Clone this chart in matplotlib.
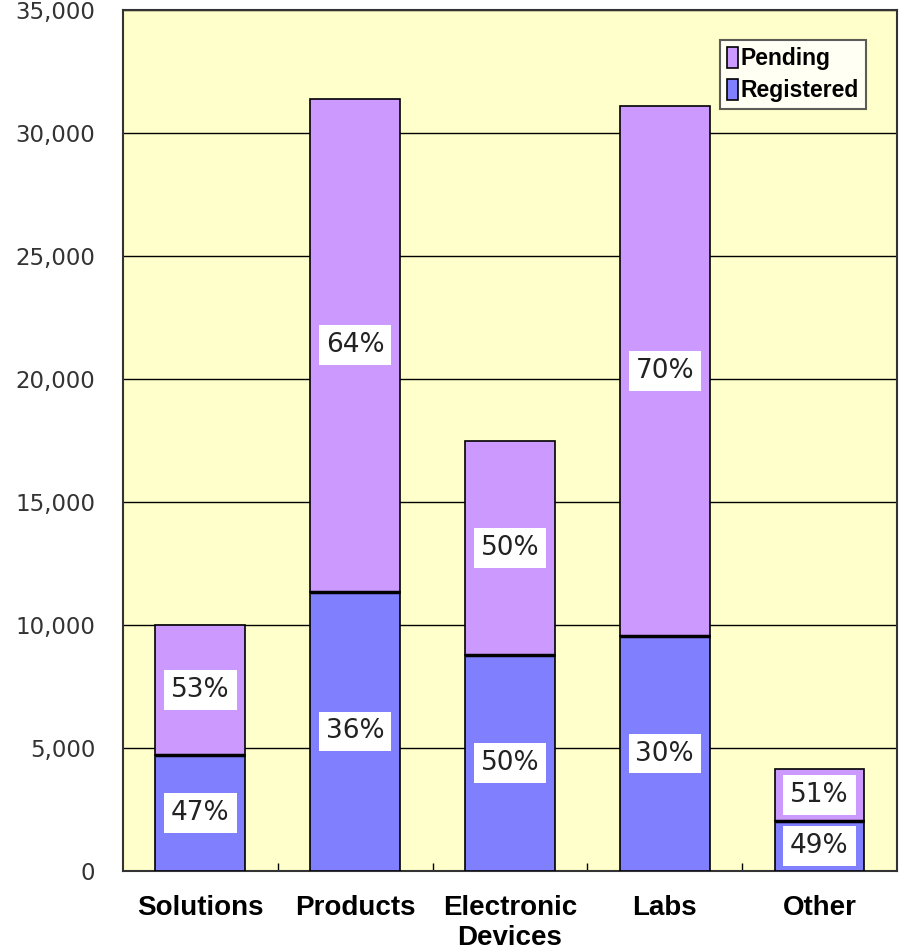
import matplotlib.pyplot as plt
import numpy as np

categories = ["Solutions", "Products", "Electronic\nDevices", "Labs", "Other"]
registered = [4700, 11350, 8780, 9550, 2050]
pending = [5300, 20050, 8720, 21550, 2100]
registered_pct = ["47%", "36%", "50%", "30%", "49%"]
pending_pct = ["53%", "64%", "50%", "70%", "51%"]

fig = plt.figure(figsize=(9.03, 9.51), dpi=100)
ax = fig.add_axes([0.1362, 0.0841, 0.857, 0.9054])
ax.set_facecolor("#FFFFCC")

x = np.arange(len(categories))
width = 0.58
reg_bars = ax.bar(x, registered, width, color="#8080FF", edgecolor="black",
                  linewidth=1.2, label="Registered", zorder=3)
pen_bars = ax.bar(x, pending, width, bottom=registered, color="#CC99FF",
                  edgecolor="black", linewidth=1.2, label="Pending", zorder=3)
# thicker line where the two segments meet
ax.hlines(registered, x - width / 2, x + width / 2, colors="black",
          linewidth=2.5, zorder=4)

box = dict(facecolor="white", edgecolor="none", pad=5)
for i in range(len(categories)):
    ax.text(x[i], registered[i] / 2, registered_pct[i], ha="center", va="center",
            fontsize=19, color="#222222", bbox=box, zorder=5)
    ax.text(x[i], registered[i] + pending[i] / 2, pending_pct[i], ha="center",
            va="center", fontsize=19, color="#222222", bbox=box, zorder=5)

ax.set_xlim(-0.5, len(categories) - 0.5)
ax.set_ylim(0, 35000)
ax.set_yticks(range(0, 35001, 5000))
ax.set_yticklabels([f"{v:,}" for v in range(0, 35001, 5000)], fontsize=16.5,
                   color="#333333")
ax.yaxis.grid(True, color="black", linewidth=1)
ax.set_axisbelow(True)
ax.tick_params(axis="y", length=0, pad=20)

ax.set_xticks(x)
ax.set_xticklabels(categories, fontsize=20, fontweight="bold",
                   family="Liberation Sans", linespacing=1.2)
ax.tick_params(axis="x", length=0, pad=17)
ax.set_xticks(np.arange(0.5, len(categories) - 1, 1), minor=True)
ax.tick_params(axis="x", which="minor", direction="in", length=6, width=1)

for sp in ax.spines.values():
    sp.set_linewidth(1.5)
    sp.set_color("#333333")

handles, labels = ax.get_legend_handles_labels()
leg = ax.legend(handles[::-1], labels[::-1], loc="upper right",
                bbox_to_anchor=(0.96, 0.965), frameon=True, fancybox=False,
                edgecolor="#333333", handlelength=0.5, handleheight=1.0,
                handletextpad=0.1, borderpad=0.3, labelspacing=0.4,
                borderaxespad=0,
                prop={"family": "Liberation Sans", "weight": "bold", "size": 16.5})
leg.get_frame().set_linewidth(1.5)

fig.savefig("out.png", dpi=100)
